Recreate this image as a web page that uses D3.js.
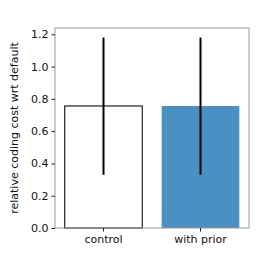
<!DOCTYPE html>
<html>
<head>
<meta charset="utf-8">
<script src="https://cdn.jsdelivr.net/npm/d3@7"></script>
<style>
  body { margin: 0; background: #fff; }
  text { font-family: "DejaVu Sans", sans-serif; }
</style>
</head>
<body>
<div id="content"></div>
<script>
const categories = ["control", "with prior"];
const means = [0.756, 0.756];
const errLow = [0.33, 0.33];
const errHigh = [1.18, 1.18];
const yTicks = [0.0, 0.2, 0.4, 0.6, 0.8, 1.0, 1.2];
const fills = ["#ffffff", "#4a90c2"];
const edges = ["#222222", "none"];

const W = 277, H = 277;
const m = {left: 55, right: 28, top: 28, bottom: 49};

const svg = d3.select("#content").append("svg")
    .attr("width", W)
    .attr("height", H);

const x = d3.scaleBand()
    .domain(categories)
    .range([m.left, W - m.right])
    .paddingInner(0.2)
    .paddingOuter(0.1);

const y = d3.scaleLinear()
    .domain([0, 1.239])
    .range([H - m.bottom, m.top]);

// bars
svg.selectAll("rect.bar")
    .data(categories)
    .enter().append("rect")
    .attr("class", "bar")
    .attr("x", d => x(d))
    .attr("width", x.bandwidth())
    .attr("y", (d, i) => y(means[i]))
    .attr("height", (d, i) => y(0) - y(means[i]))
    .style("fill", (d, i) => fills[i])
    .style("stroke", (d, i) => edges[i])
    .style("stroke-width", 1.2);

// error bars
svg.selectAll("line.err")
    .data(categories)
    .enter().append("line")
    .attr("class", "err")
    .attr("x1", d => x(d) + x.bandwidth() / 2)
    .attr("x2", d => x(d) + x.bandwidth() / 2)
    .attr("y1", (d, i) => y(errLow[i]))
    .attr("y2", (d, i) => y(errHigh[i]))
    .style("stroke", "#000")
    .style("stroke-width", 2);

// frame
svg.append("rect")
    .attr("x", m.left)
    .attr("y", m.top)
    .attr("width", W - m.left - m.right)
    .attr("height", H - m.top - m.bottom)
    .style("fill", "none")
    .style("stroke", "#999")
    .style("stroke-width", 1);

// axes
const yAxis = svg.append("g")
    .attr("transform", `translate(${m.left},0)`)
    .call(d3.axisLeft(y).tickValues(yTicks).tickFormat(d3.format(".1f")).tickSize(3.5).tickPadding(3));
const xAxis = svg.append("g")
    .attr("transform", `translate(0,${H - m.bottom})`)
    .call(d3.axisBottom(x).tickSize(3.5).tickPadding(3.5));

[yAxis, xAxis].forEach(a => {
    a.select(".domain").remove();
    a.selectAll(".tick line").style("stroke", "#222");
    a.selectAll(".tick text").style("font-size", "11px").style("fill", "#111")
        .style("font-family", "DejaVu Sans, sans-serif");
});

svg.append("text")
    .attr("transform", `translate(18,${(m.top + H - m.bottom) / 2}) rotate(-90)`)
    .attr("text-anchor", "middle")
    .style("font-size", "11px")
    .style("fill", "#111")
    .text("relative coding cost wrt default");
</script>
</body>
</html>
